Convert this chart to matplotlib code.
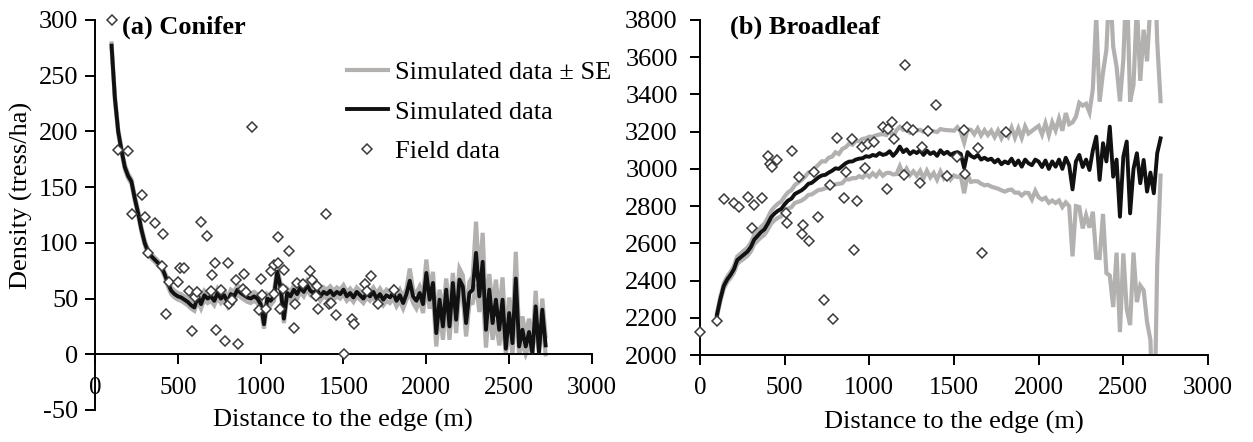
import numpy as np
import matplotlib
matplotlib.use("Agg")
import matplotlib.pyplot as plt
from matplotlib.lines import Line2D

plt.rcParams['font.family'] = ['Liberation Serif', 'DejaVu Serif']
plt.rcParams['font.size'] = 19
plt.rcParams['axes.unicode_minus'] = False

# distance grid of the simulation (m)
dist = np.arange(100, 2721, 20)

# (a) Conifer - simulated mean and SE
con_mean = [277, 230, 200, 183, 168, 160, 155, 140, 127, 112,
            100, 92, 88, 85, 82, 79, 72, 64, 57, 54,
            52, 51, 49, 47, 44, 42, 52, 45, 53, 50,
            52, 48, 55, 50, 53, 47, 54, 52, 58, 55,
            53, 51, 50, 52, 50, 45, 27, 50, 48, 52,
            74, 60, 32, 55, 52, 58, 54, 60, 56, 62,
            57, 55, 58, 52, 56, 54, 57, 53, 56, 54,
            58, 52, 55, 51, 56, 53, 50, 55, 52, 56,
            50, 54, 49, 53, 51, 55, 48, 53, 46, 54,
            66, 52, 48, 55, 45, 73, 49, 64, 19, 49,
            25, 58, 25, 64, 31, 67, 61, 28, 55, 58,
            91, 52, 83, 22, 58, 28, 49, 22, 49, 5,
            37, 10, 68, 7, 22, 7, 20, 1, 43, 2,
            40, 8]
con_se = [2, 2, 2, 2, 2, 2, 2, 2, 2, 2,
          2, 2, 2, 2, 2, 2, 2, 3, 3, 3,
          3, 3, 3, 3, 3, 3, 4, 4, 4, 4,
          4, 4, 4, 4, 4, 4, 4, 4, 4, 4,
          4, 4, 4, 4, 4, 4, 4, 4, 4, 4,
          4, 4, 4, 4, 4, 4, 4, 4, 4, 4,
          4, 4, 4, 4, 4, 4, 4, 4, 4, 4,
          4, 4, 4, 4, 4, 4, 4, 4, 4, 4,
          5, 5, 5, 5, 5, 5, 5, 5, 5, 5,
          11, 6, 7, 6, 8, 12, 8, 10, 12, 9,
          12, 10, 12, 9, 12, 10, 10, 12, 10, 12,
          28, 14, 26, 16, 14, 15, 18, 14, 20, 10,
          14, 10, 24, 10, 12, 10, 12, 8, 14, 6,
          10, 8]

# (a) Conifer - field data
con_fx = [100, 140, 200, 225, 285, 300, 318, 362, 403, 412, 428, 448, 503, 513,
          538, 567, 585, 603, 614, 638, 675, 700, 708, 724, 731, 761, 785, 802,
          809, 828, 851, 863, 896, 900, 910, 950, 989, 1002, 1011, 1032, 1060,
          1080, 1083, 1103, 1107, 1117, 1133, 1141, 1171, 1204, 1208, 1218, 1256,
          1298, 1309, 1333, 1340, 1345, 1395, 1410, 1425, 1455, 1504, 1552, 1564,
          1630, 1641, 1665, 1707, 1806]
con_fy = [300, 183, 182, 126, 143, 123, 91, 118, 79, 108, 36, 65, 65, 77,
          77, 57, 21, 51, 56, 119, 106, 57, 71, 82, 22, 58, 12, 82,
          45, 49, 67, 9, 59, 72, 56, 204, 40, 68, 53, 41, 75,
          80, 54, 82, 105, 41, 59, 76, 93, 24, 45, 64, 63,
          75, 67, 52, 61, 41, 126, 45, 46, 35, 0, 32, 27,
          63, 57, 70, 45, 58]

# (b) Broadleaf - simulated mean and SE
brd_mean = [2215, 2300, 2370, 2405, 2430, 2460, 2510, 2525, 2540, 2555,
            2580, 2620, 2640, 2660, 2675, 2705, 2740, 2760, 2775, 2785,
            2810, 2830, 2840, 2865, 2875, 2885, 2900, 2920, 2925, 2940,
            2955, 2965, 2968, 2980, 2990, 3003, 3000, 3015, 3030, 3039,
            3040, 3050, 3055, 3057, 3068, 3065, 3075, 3070, 3085, 3075,
            3080, 3095, 3070, 3090, 3120, 3090, 3105, 3080, 3095, 3085,
            3100, 3075, 3098, 3080, 3090, 3070, 3100, 3080, 3092, 3075,
            3085, 3090, 3080, 3005, 3090, 3070, 3060, 3075, 3050, 3060,
            3048, 3055, 3035, 3050, 3025, 3040, 3030, 3055, 3020, 3045,
            3012, 3050, 3030, 3020, 3050, 3039, 3010, 3045, 3000, 3040,
            3012, 3050, 3000, 3060, 3020, 2890, 3040, 3075, 3010, 3050,
            2994, 3100, 3173, 2941, 3138, 3040, 3227, 2958, 3050, 2743,
            3066, 3147, 2761, 3000, 3084, 2923, 3048, 2878, 2980, 2869,
            3084, 3164]
brd_se = [10, 12, 14, 15, 16, 18, 20, 20, 22, 22,
          24, 25, 26, 28, 30, 32, 34, 36, 38, 40,
          42, 44, 46, 48, 52, 55, 58, 60, 62, 65,
          68, 76, 72, 80, 76, 86, 80, 92, 86, 96,
          90, 100, 94, 104, 96, 108, 98, 110, 100, 112,
          102, 116, 100, 118, 106, 120, 104, 114, 108, 122,
          110, 124, 108, 126, 112, 128, 114, 130, 116, 132,
          120, 134, 118, 136, 122, 140, 126, 142, 130, 148,
          134, 150, 136, 156, 140, 162, 144, 166, 148, 172,
          155, 178, 160, 184, 168, 192, 175, 200, 182, 210,
          195, 220, 205, 240, 220, 360, 240, 280, 330, 300,
          310, 330, 650, 420, 380, 600, 800, 700, 500, 620,
          520, 900, 600, 450, 800, 550, 700, 700, 900, 1400,
          600, 200]

# (b) Broadleaf - field data
brd_fx = [0, 100, 143, 202, 230, 285, 305, 320, 364, 403, 413, 427, 453, 509,
          513, 542, 585, 604, 610, 643, 673, 697, 732, 768, 785, 808, 851, 862,
          897, 909, 926, 956, 975, 992, 1028, 1080, 1103, 1110, 1134, 1146, 1205,
          1211, 1222, 1258, 1300, 1311, 1347, 1394, 1459, 1518, 1559, 1565, 1642,
          1666, 1807]
brd_fy = [2125, 2185, 2838, 2817, 2795, 2849, 2682, 2806, 2843, 3071, 3026, 3010,
          3048, 2763, 2711, 3097, 2956, 2650, 2699, 2614, 2983, 2741, 2296, 2913,
          2193, 3166, 2844, 2983, 3161, 2564, 2828, 3118, 3005, 3134, 3145, 3225,
          2892, 3214, 3252, 3161, 2967, 3558, 3225, 3209, 2924, 3118, 3204, 3343,
          2962, 3064, 3209, 2973, 3112, 2548, 3198]

gray = '#b3b0b0'
W, H = 1253, 442
fig = plt.figure(figsize=(W / 100, H / 100), dpi=100)
ax1 = fig.add_axes([95 / W, 1 - 410 / H, 497 / W, 390 / H])
ax2 = fig.add_axes([700 / W, 1 - 355 / H, 508 / W, 335 / H])


def draw(ax, mean, se, fx, fy, clip_zero, ypad):
    mean = np.array(mean, dtype=float)
    se = np.array(se, dtype=float)
    lo = mean - se
    if clip_zero:
        lo = np.clip(lo, 0, None)
    ax.plot(dist, mean + se, color=gray, lw=3, solid_joinstyle='miter', zorder=2)
    ax.plot(dist, lo, color=gray, lw=3, solid_joinstyle='miter', zorder=2)
    ax.plot(dist, mean, color='#111111', lw=2.8, zorder=3)
    ax.plot(fx, fy, ls='none', marker='D', ms=4.8, mfc='white', mec='#3a3a3a',
            mew=1.1, zorder=4, clip_on=False)
    ax.set_xlim(0, 3000)
    ax.set_xticks(np.arange(0, 3001, 500))
    for s in ('top', 'right'):
        ax.spines[s].set_visible(False)
    for s in ('left', 'bottom'):
        ax.spines[s].set_linewidth(1.4)
    ax.tick_params(direction='out', length=7, width=1.4)
    ax.tick_params(axis='x', pad=9, labelsize=18)
    ax.tick_params(axis='y', pad=ypad, labelsize=19)


draw(ax1, con_mean, con_se, con_fx, con_fy, True, 5)
ax1.set_ylim(-50, 300)
ax1.set_yticks(np.arange(-50, 301, 50))
ax1.spines['bottom'].set_position(('data', 0))
ax1.text(0.054, 0.982, '(a) Conifer', transform=ax1.transAxes, fontsize=19,
         fontweight='bold', va='center', ha='left')

draw(ax2, brd_mean, brd_se, brd_fx, brd_fy, False, 9)
ax2.set_ylim(2000, 3800)
ax2.set_yticks(np.arange(2000, 3801, 200))
ax2.text(0.059, 0.979, '(b) Broadleaf', transform=ax2.transAxes, fontsize=19,
         fontweight='bold', va='center', ha='left')

fig.text(343 / W, 1 - 420 / H, 'Distance to the edge (m)', ha='center', va='center', fontsize=19)
fig.text(954 / W, 1 - 422 / H, 'Distance to the edge (m)', ha='center', va='center', fontsize=19)
fig.text(21 / W, 1 - 195 / H, 'Density (tress/ha)', ha='center', va='center',
         rotation=90, fontsize=19)

handles = [Line2D([], [], color=gray, lw=3),
           Line2D([], [], color='#111111', lw=2.8),
           Line2D([], [], ls='none', marker='D', ms=4.8, mfc='white', mec='#3a3a3a', mew=1.1)]
ax1.legend(handles, ['Simulated data ± SE', 'Simulated data', 'Field data'],
           loc='upper left', bbox_to_anchor=(0.507, 0.895), frameon=False,
           borderpad=0, borderaxespad=0, handlelength=1.55, handletextpad=0.27,
           labelspacing=0.6, fontsize=19)

fig.savefig('out.png', dpi=100)
